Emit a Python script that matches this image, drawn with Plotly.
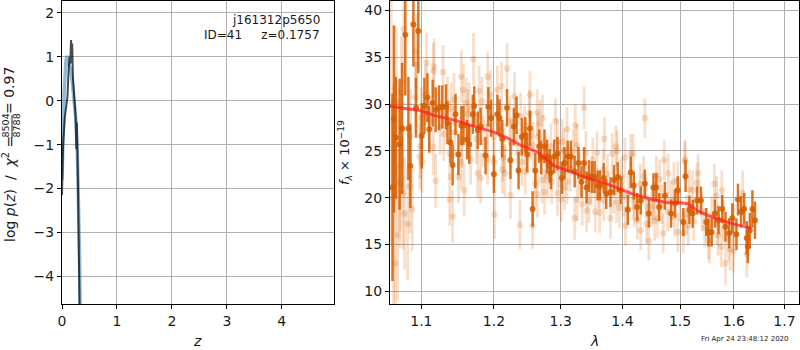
import plotly.graph_objects as go

blue_z = [0, .02, .04, .07, .09, .12, .15, .19, .22, .25, .28, .30, .32, .33]
blue_logp = [-1.8, -.6, .2, .9, 1.02, .85, .75, .4, .05, -.4, -1.2, -2.2, -3.6, -4.7]
dark_z = [0, .02, .05, .08, .10, .12, .14, .15, .165, .175, .185, .20, .22, .25, .26, .27, .29, .31, .32]
dark_logp = [-2.15, -1.0, -.4, -.05, .1, .7, 1.0, .85, 1.38, .85, 1.3, .5, .1, -.4, -1.1, -.5, -1.8, -3.5, -4.7]

dark_lam = [1.0644, 1.067, 1.0626, 1.0717, 1.075, 1.079, 1.083, 1.0855, 1.0895, 1.096,
            1.093, 1.1005, 1.104, 1.108, 1.1105, 1.115, 1.119, 1.1236, 1.128, 1.133,
            1.135, 1.139, 1.142, 1.146, 1.150, 1.154, 1.157, 1.162, 1.165, 1.170,
            1.172, 1.177, 1.181, 1.188, 1.192, 1.196, 1.200, 1.205, 1.208, 1.212,
            1.219, 1.224, 1.229, 1.233, 1.236, 1.241, 1.246, 1.249, 1.253, 1.257,
            1.261, 1.267, 1.270, 1.275, 1.279, 1.283, 1.285, 1.290, 1.295, 1.302,
            1.306, 1.311, 1.316, 1.322, 1.328, 1.333, 1.337, 1.341, 1.345, 1.350,
            1.354, 1.359, 1.363, 1.369, 1.373, 1.380, 1.386, 1.392, 1.397, 1.409,
            1.414, 1.419, 1.425, 1.431, 1.438, 1.445, 1.453, 1.458, 1.463, 1.473,
            1.484, 1.491, 1.496, 1.506, 1.510, 1.517, 1.523, 1.531, 1.538, 1.548,
            1.552, 1.558, 1.564, 1.571, 1.578, 1.584, 1.591, 1.597, 1.605, 1.608,
            1.614, 1.620, 1.625, 1.627, 1.631, 1.636, 1.641]
dark_flux = [28.4, 26.4, 21.1, 25.7, 27.4, 37.4, 27.4, 23.4, 38.5, 37.8,
             29.6, 26.6, 29.8, 30.7, 27.3, 30.1, 29.4, 29.6, 29.7, 29.7,
             28.0, 25.9, 23.5, 28.9, 24.6, 27.7, 27.7, 26.2, 25.7, 28.9,
             29.8, 27.2, 27.6, 24.5, 29.7, 28.5, 22.5, 28.9, 28.5, 26.3,
             29.6, 24.0, 27.6, 28.8, 22.9, 26.5, 26.7, 24.6, 27.4, 18.8,
             22.9, 25.5, 24.3, 25.5, 24.4, 23.4, 22.7, 24.4, 24.7, 22.1,
             23.7, 24.4, 24.4, 22.8, 23.7, 21.7, 23.7, 21.1, 22.3, 22.2,
             22.2, 21.3, 21.3, 22.1, 20.4, 20.6, 21.9, 22.2, 20.8, 18.7,
             22.7, 21.3, 19.0, 19.7, 21.5, 18.3, 21.1, 21.1, 19.0, 20.2,
             18.3, 19.4, 20.8, 17.4, 22.3, 18.7, 18.3, 19.7, 19.7, 17.4,
             16.3, 16.3, 18.3, 17.6, 18.8, 16.9, 16.2, 17.8, 16.1, 19.8,
             18.5, 18.8, 15.7, 14.8, 16.5, 18.8, 17.6]
dark_err = [10, 6.5, 10, 7, 7, 6.5, 5.5, 4.5, 4.5, 4.5,
            3.2, 3.5, 3, 2.6, 2.5, 2.5, 2.4, 2.4, 2.3, 2.4,
            2.3, 2.2, 2.2, 2.2, 2.2, 2.1, 2.1, 2.1, 2.1, 2.1,
            2.1, 2.0, 2.0, 2.0, 2.1, 2.0, 2.0, 2.1, 2.0, 2.0,
            2.0, 2.0, 2.0, 2.0, 2.0, 2.0, 1.9, 1.9, 1.9, 1.9,
            1.9, 1.8, 1.8, 1.8, 1.8, 1.8, 1.8, 1.8, 1.8, 1.7,
            1.7, 1.7, 1.7, 1.7, 1.7, 1.7, 1.7, 1.7, 1.7, 1.7,
            1.7, 1.6, 1.6, 1.6, 1.6, 1.6, 1.6, 1.6, 1.5, 1.6,
            1.7, 1.5, 1.5, 1.5, 1.5, 1.5, 1.5, 1.5, 1.5, 1.5,
            1.5, 1.5, 1.5, 1.5, 1.7, 1.5, 1.5, 1.5, 1.5, 1.5,
            1.5, 1.5, 1.5, 1.5, 1.5, 1.6, 1.6, 1.6, 1.7, 1.7,
            1.7, 1.7, 1.8, 1.8, 1.9, 2.0, 2.0]

light_lam = [1.077, 1.107, 1.117, 1.116, 1.129, 1.154, 1.171, 1.191, 1.219, 1.157,
             1.179, 1.205, 1.211, 1.230, 1.253, 1.195, 1.183, 1.144, 1.135, 1.161,
             1.105, 1.092, 1.074, 1.067, 1.094, 1.093, 1.140, 1.264, 1.272, 1.268,
             1.292, 1.323, 1.337, 1.326, 1.310, 1.302, 1.295, 1.254, 1.252, 1.239,
             1.232, 1.223, 1.163, 1.119, 1.098, 1.101, 1.116, 1.138, 1.154, 1.167,
             1.177, 1.181, 1.150, 1.158, 1.138, 1.142, 1.201, 1.238, 1.257, 1.224,
             1.212, 1.216, 1.191, 1.200, 1.213, 1.241, 1.246, 1.248, 1.261, 1.264,
             1.275, 1.271, 1.280, 1.286, 1.295, 1.301, 1.306, 1.310, 1.326, 1.334,
             1.341, 1.322, 1.345, 1.088, 1.078, 1.082, 1.085, 1.076, 1.072, 1.099,
             1.086, 1.072, 1.370, 1.389, 1.391, 1.383, 1.351, 1.358, 1.404, 1.414,
             1.418, 1.438, 1.472, 1.479, 1.509, 1.509, 1.533, 1.563, 1.458, 1.436,
             1.464, 1.489, 1.496, 1.531, 1.517, 1.523, 1.567, 1.577, 1.617, 1.395,
             1.380, 1.362, 1.355, 1.405, 1.431, 1.425, 1.445, 1.441, 1.460, 1.470,
             1.496, 1.506, 1.515, 1.554, 1.552, 1.576, 1.593, 1.584, 1.599, 1.625,
             1.569, 1.484, 1.453, 1.419, 1.402, 1.369, 1.061, 1.064, 1.066, 1.069,
             1.10, 1.11, 1.125, 1.13, 1.145, 1.155, 1.165, 1.175, 1.185, 1.19,
             1.20, 1.21, 1.215, 1.225, 1.235, 1.245, 1.258, 1.265, 1.277, 1.285,
             1.298, 1.305, 1.315, 1.32, 1.33, 1.34, 1.348, 1.36, 1.368, 1.375,
             1.385, 1.39, 1.398, 1.41, 1.42, 1.43, 1.44, 1.45, 1.455, 1.468,
             1.478, 1.49, 1.50, 1.512, 1.525, 1.54, 1.545, 1.558, 1.57, 1.58,
             1.59, 1.60]
light_flux = [38.0, 34.4, 34.0, 33.5, 33.4, 32.9, 34.8, 32.9, 33.8, 31.5,
              31.4, 31.5, 31.9, 30.8, 31.0, 31.0, 30.3, 30.5, 30.1, 30.1,
              31.0, 30.7, 31.2, 30.3, 34.2, 35.6, 29.5, 29.1, 28.5, 27.9,
              28.2, 27.7, 29.6, 25.6, 27.3, 26.0, 26.0, 26.6, 29.0, 28.7,
              28.0, 28.2, 28.9, 21.8, 24.4, 23.8, 25.4, 24.7, 23.8, 24.1,
              22.6, 22.1, 22.2, 20.8, 19.8, 18.0, 18.2, 17.1, 17.0, 20.3,
              23.0, 22.6, 24.1, 23.8, 24.3, 23.8, 22.8, 25.5, 21.5, 20.4,
              20.6, 21.9, 22.3, 21.7, 20.5, 19.8, 21.1, 21.7, 19.8, 19.3,
              18.6, 17.8, 19.6, 18.8, 18.3, 17.2, 21.2, 20.5, 21.6, 25.5,
              26.6, 23.4, 26.3, 25.5, 25.0, 24.7, 24.1, 24.8, 24.3, 24.7,
              24.7, 28.5, 24.0, 22.6, 24.1, 23.9, 22.6, 21.5, 22.4, 22.3,
              22.0, 21.7, 21.8, 21.6, 20.9, 20.8, 20.2, 20.8, 20.5, 18.9,
              17.8, 18.4, 18.5, 17.0, 16.5, 17.6, 15.4, 17.2, 17.8, 16.2,
              16.3, 16.2, 17.0, 15.1, 15.5, 14.8, 14.5, 13.0, 14.3, 14.0,
              17.1, 19.7, 19.7, 19.7, 20.1, 19.7, 30.0, 20.0, 13.0, 16.0,
              28.5, 28.2, 27.5, 26.8, 27.0, 26.0, 29.5, 26.3, 26.0, 27.6,
              26.5, 27.2, 25.3, 25.8, 24.8, 27.3, 25.6, 26.5, 24.0, 25.5,
              23.5, 25.0, 23.1, 25.0, 22.5, 24.8, 21.5, 21.0, 23.0, 22.5,
              20.5, 19.5, 22.2, 20.5, 19.0, 21.5, 20.0, 19.0, 17.5, 19.3,
              18.5, 18.0, 19.5, 18.2, 17.5, 18.5, 16.8, 18.0, 16.0, 17.5,
              15.5, 17.0]
light_err = [6, 3.2, 3, 3, 2.9, 2.8, 2.8, 2.7, 2.7, 2.8,
             2.7, 2.6, 2.6, 2.6, 2.5, 2.6, 2.6, 2.8, 2.8, 2.7,
             3.2, 3.8, 6, 8, 4, 4, 2.8, 2.5, 2.5, 2.5,
             2.4, 2.3, 2.3, 2.3, 2.4, 2.4, 2.4, 2.5, 2.5, 2.5,
             2.6, 2.6, 2.7, 2.9, 3.5, 3.3, 3, 2.8, 2.8, 2.7,
             2.7, 2.7, 2.8, 2.8, 2.8, 2.8, 2.6, 2.6, 2.5, 2.6,
             2.6, 2.6, 2.7, 2.6, 2.6, 2.5, 2.5, 2.5, 2.5, 2.5,
             2.4, 2.5, 2.4, 2.4, 2.4, 2.4, 2.4, 2.4, 2.3, 2.3,
             2.3, 2.3, 2.3, 4.5, 6, 6, 5, 6, 7, 3.5,
             5, 7, 2.3, 2.2, 2.2, 2.2, 2.3, 2.3, 2.1, 2.1,
             2.1, 2.1, 2.1, 2.1, 2.1, 2.1, 2.1, 2.1, 2.1, 2.1,
             2.1, 2.1, 2.1, 2.1, 2.1, 2.1, 2.1, 2.1, 2.4, 2.1,
             2.2, 2.2, 2.2, 2.1, 2.1, 2.1, 2.1, 2.1, 2.1, 2.1,
             2.1, 2.1, 2.1, 2.1, 2.1, 2.2, 2.3, 2.3, 2.3, 2.5,
             2.2, 2.1, 2.1, 2.1, 2.1, 2.2, 15, 12, 8, 7,
             3.3, 3.0, 2.9, 2.9, 2.8, 2.8, 2.8, 2.7, 2.7, 2.7,
             2.6, 2.6, 2.6, 2.6, 2.5, 2.5, 2.5, 2.5, 2.5, 2.4,
             2.4, 2.4, 2.4, 2.3, 2.3, 2.3, 2.3, 2.2, 2.2, 2.2,
             2.2, 2.2, 2.1, 2.1, 2.1, 2.1, 2.1, 2.1, 2.1, 2.1,
             2.1, 2.1, 2.1, 2.1, 2.1, 2.1, 2.1, 2.1, 2.2, 2.2,
             2.3, 2.3]

model_lam = [1.059, 1.072, 1.098, 1.116, 1.144, 1.163, 1.181, 1.2, 1.219, 1.239, 1.264, 1.280, 1.290, 1.302, 1.347,
             1.373, 1.4, 1.419, 1.448, 1.478, 1.5, 1.514, 1.532, 1.551, 1.582, 1.606, 1.634]
model_flux = [29.8, 29.6, 29.3, 28.8, 28.3, 27.8, 27.4, 27.0, 26.4, 25.6, 24.9, 24.0, 23.4, 23.1, 22.0,
              21.5, 20.85, 20.35, 19.85, 19.45, 19.45, 19.35, 18.6, 18.1, 17.5, 17.1, 16.75]

left_ticks_x = [0, 1, 2, 3, 4]
left_ticks_y = [2, 1, 0, -1, -2, -3, -4]
right_ticks_x = [1.1, 1.2, 1.3, 1.4, 1.5, 1.6, 1.7]
right_ticks_y = [10, 15, 20, 25, 30, 35, 40]

W, H = 800, 350
FONT = "DejaVu Sans"
ORANGE = "213,94,0"
px = lambda v: v / W
py = lambda v: 1 - v / H

fig = go.Figure()
fig.add_trace(go.Scatter(x=blue_z, y=blue_logp, mode="lines", xaxis="x", yaxis="y",
                         line=dict(color="rgba(31,119,180,0.5)", width=3.5), showlegend=False))
fig.add_trace(go.Scatter(x=dark_z, y=dark_logp, mode="lines", xaxis="x", yaxis="y",
                         line=dict(color="rgba(0,0,0,0.7)", width=2), showlegend=False))
fig.add_trace(go.Scatter(x=light_lam, y=light_flux, mode="markers", xaxis="x2", yaxis="y2", showlegend=False,
                         marker=dict(color=f"rgba({ORANGE},0.2)", size=6.5),
                         error_y=dict(type="data", array=light_err, color=f"rgba({ORANGE},0.2)", thickness=2.8, width=0)))
fig.add_trace(go.Scatter(x=dark_lam, y=dark_flux, mode="markers", xaxis="x2", yaxis="y2", showlegend=False,
                         marker=dict(color=f"rgba({ORANGE},0.85)", size=6),
                         error_y=dict(type="data", array=dark_err, color=f"rgba({ORANGE},0.85)", thickness=2.5, width=0)))
fig.add_trace(go.Scatter(x=model_lam, y=model_flux, mode="lines", xaxis="x2", yaxis="y2", showlegend=False,
                         line=dict(color="rgba(255,30,30,0.7)", width=3)))

axis = dict(showgrid=True, gridcolor="#b0b0b0", gridwidth=1, zeroline=False, showline=True, linecolor="black",
            linewidth=1, mirror=True, ticks="outside", ticklen=4, tickwidth=1, tickcolor="black", automargin=False,
            tickfont=dict(family=FONT, size=14, color="#1a1a1a"))

fig.update_layout(
    width=W, height=H, autosize=False, margin=dict(l=0, r=0, t=0, b=0),
    paper_bgcolor="white", plot_bgcolor="white",
    font=dict(family=FONT, color="#1a1a1a"),
    xaxis=dict(axis, domain=[px(62), px(334)], range=[0, 4.95], tickvals=left_ticks_x, tickformat="d", anchor="y"),
    yaxis=dict(axis, domain=[py(304), py(1)], range=[-4.63, 2.27], tickvals=left_ticks_y, anchor="x"),
    xaxis2=dict(axis, domain=[px(390), px(799)], type="log", range=[0.02506, 0.23805], tickvals=right_ticks_x,
                ticktext=[str(v) for v in right_ticks_x], anchor="y2"),
    yaxis2=dict(axis, domain=[py(304), py(1)], range=[8.65, 41], tickvals=right_ticks_y, anchor="x2"),
)

def note(x, y, text, size=14, angle=0, anchor="center"):
    fig.add_annotation(xref="paper", yref="paper", x=px(x), y=py(y), text=text, showarrow=False, textangle=angle,
                       xanchor=anchor, yanchor="middle", font=dict(family=FONT, size=size, color="#1a1a1a"))

note(322, 20, "j161312p5650", 12, anchor="right")
note(322, 35, "ID=41     z=0.1757", 12, anchor="right")
note(197, 341, "<i>z</i>")
note(594, 341, "<i>λ</i>")
note(345, 153, "<i>f</i><sub><i>λ</i></sub> × 10<sup>−19</sup>", 13, -90)
note(9, 189, "log <i>p</i>(<i>z</i>)  /  <i>χ</i><sup>2</sup> =", 14, -90)
note(9, 91, "= 0.97", 14, -90)
note(4.5, 126, "8504", 9.5, -90)
note(15.5, 126, "8788", 9.5, -90)
note(745, 339, "Fri Apr 24 23:48:12 2020", 7)
fig.add_shape(type="line", xref="paper", yref="paper", x0=px(12), x1=px(12), y0=py(115), y1=py(138),
              line=dict(color="#1a1a1a", width=1))

fig.write_html("out.html", config=dict(displayModeBar=False),
               post_script="document.body.style.margin='0';document.documentElement.style.overflow='hidden';")
